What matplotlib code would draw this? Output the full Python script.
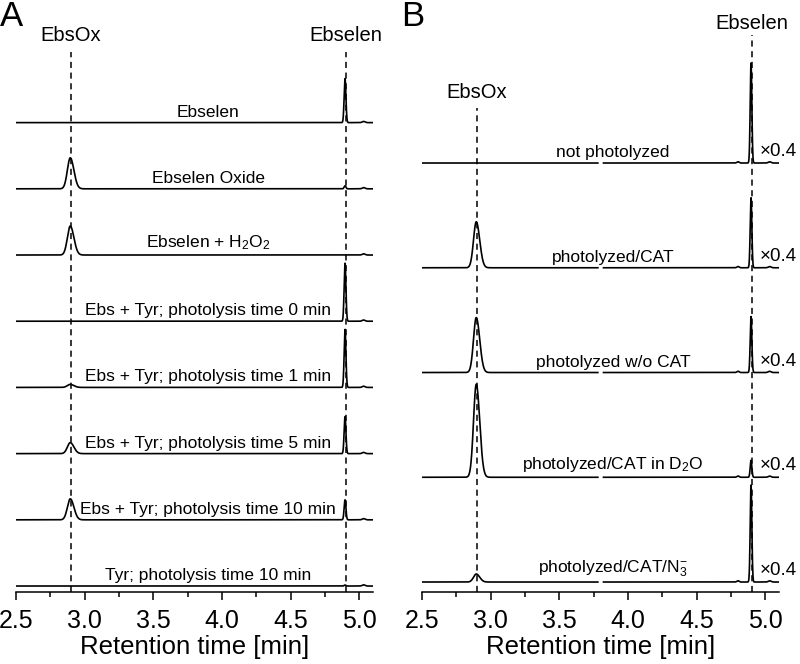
import numpy as np
import matplotlib
matplotlib.use("Agg")
from matplotlib import pyplot as plt

plt.rcParams['font.family'] = ['Liberation Sans', 'DejaVu Sans']
plt.rcParams['mathtext.fontset'] = 'custom'
plt.rcParams['mathtext.rm'] = 'Liberation Sans'
plt.rcParams['mathtext.it'] = 'Liberation Sans:italic'

# retention times of the two peaks (min)
t_ox = 2.895
t_eb = 4.895

# panel A, top to bottom (peak heights in px)
labels_a = ['Ebselen', 'Ebselen Oxide', 'Ebselen + H$_2$O$_2$',
            'Ebs + Tyr; photolysis time 0 min', 'Ebs + Tyr; photolysis time 1 min',
            'Ebs + Tyr; photolysis time 5 min', 'Ebs + Tyr; photolysis time 10 min',
            'Tyr; photolysis time 10 min']
ox_a = [0, 31, 29, 0, 3, 11, 21, 0]
eb_a = [44, 3, 0, 58, 58, 37, 20, 1]

# panel B, top to bottom
labels_b = ['not photolyzed', 'photolyzed/CAT', 'photolyzed w/o CAT',
            'photolyzed/CAT in D$_2$O', 'photolyzed/CAT/N$_3^{-}$']
ox_b = [0, 46, 55, 93, 8]
eb_b = [100, 70, 56, 17, 97]
scale_b = '×0.4'


def trace(t, h_ox, h_eb, s_ox=0.021, s_eb=0.0065):
    # tailing on the EbsOx peak
    s = np.where(t > t_ox, s_ox * 1.25, s_ox)
    y = h_ox * np.exp(-0.5 * ((t - t_ox) / s) ** 2)
    y += h_eb * np.exp(-0.5 * ((t - t_eb) / s_eb) ** 2)
    y += 1.2 * np.exp(-0.5 * ((t - 5.03) / 0.01) ** 2)
    return y


t = np.arange(2.5, 5.1, 0.001)

fig = plt.figure(figsize=(8, 6.64), dpi=100)
axA = fig.add_axes([0.02, 0.1084, 0.4465, 0.8464])
axB = fig.add_axes([0.5275, 0.1084, 0.4465, 0.8464])

for ax in (axA, axB):
    ax.set_xlim(2.5, 5.1)
    ax.set_ylim(0, 562)
    for sp in ('left', 'right', 'top'):
        ax.spines[sp].set_visible(False)
    ax.spines['bottom'].set_linewidth(1.1)
    ax.set_yticks([])
    ax.set_xticks([2.5, 3.0, 3.5, 4.0, 4.5, 5.0])
    ax.set_xticks([2.75, 3.25, 3.75, 4.25, 4.75], minor=True)
    ax.tick_params(axis='x', which='major', direction='out', length=6, width=1.1,
                   labelsize=18, pad=6)
    ax.tick_params(axis='x', which='minor', direction='out', length=3.5, width=1.1)
    ax.set_xticklabels(['2.5', '3.0', '3.5', '4.0', '4.5', '5.0'])
    ax.set_xlabel('Retention time [min]', fontsize=18.5, labelpad=2)

# panel A
step_a = 66.2
for i, lab in enumerate(labels_a):
    base = 6 + (len(labels_a) - 1 - i) * step_a
    y = base + trace(t, ox_a[i], eb_a[i])
    axA.plot(t, y, color='black', lw=1.2)
    axA.text(3.9, base + 3, lab, ha='center', va='bottom', fontsize=12.5)

axA.plot([2.9, 2.9], [0, 540], ls=(0, (4, 3)), color='black', lw=1.1)
axA.plot([4.9, 4.9], [0, 540], ls=(0, (4, 3)), color='black', lw=1.1)
axA.text(2.9, 557, 'EbsOx', ha='center', va='center', fontsize=14.5)
axA.text(4.9, 557, 'Ebselen', ha='center', va='center', fontsize=14.5)
fig.text(0.0, 0.975, 'A', fontsize=25, va='center')

# panel B (axis break around 3.8 min)
step_b = 104.75
for i, lab in enumerate(labels_b):
    base = 10 + (len(labels_b) - 1 - i) * step_b
    y = base + trace(t, ox_b[i], eb_b[i], s_ox=0.02, s_eb=0.006)
    y = y + 1.3 * np.exp(-0.5 * ((t - 4.80) / 0.008) ** 2)
    y[(t > 3.78) & (t < 3.82)] = np.nan
    axB.plot(t, y, color='black', lw=1.2)
    axB.text(3.89, base + 3, lab, ha='center', va='bottom', fontsize=12.5)
    axB.text(4.955, base + 3, scale_b, ha='left', va='bottom', fontsize=13.5)

axB.plot([2.9, 2.9], [0, 484], ls=(0, (4, 3)), color='black', lw=1.1)
axB.plot([4.9, 4.9], [0, 557], ls=(0, (4, 3)), color='black', lw=1.1)
axB.text(2.9, 500, 'EbsOx', ha='center', va='center', fontsize=14.5)
axB.text(4.9, 569, 'Ebselen', ha='center', va='center', fontsize=14.5, clip_on=False)
fig.text(0.502, 0.975, 'B', fontsize=25, va='center')

fig.savefig('out.png', dpi=100)
